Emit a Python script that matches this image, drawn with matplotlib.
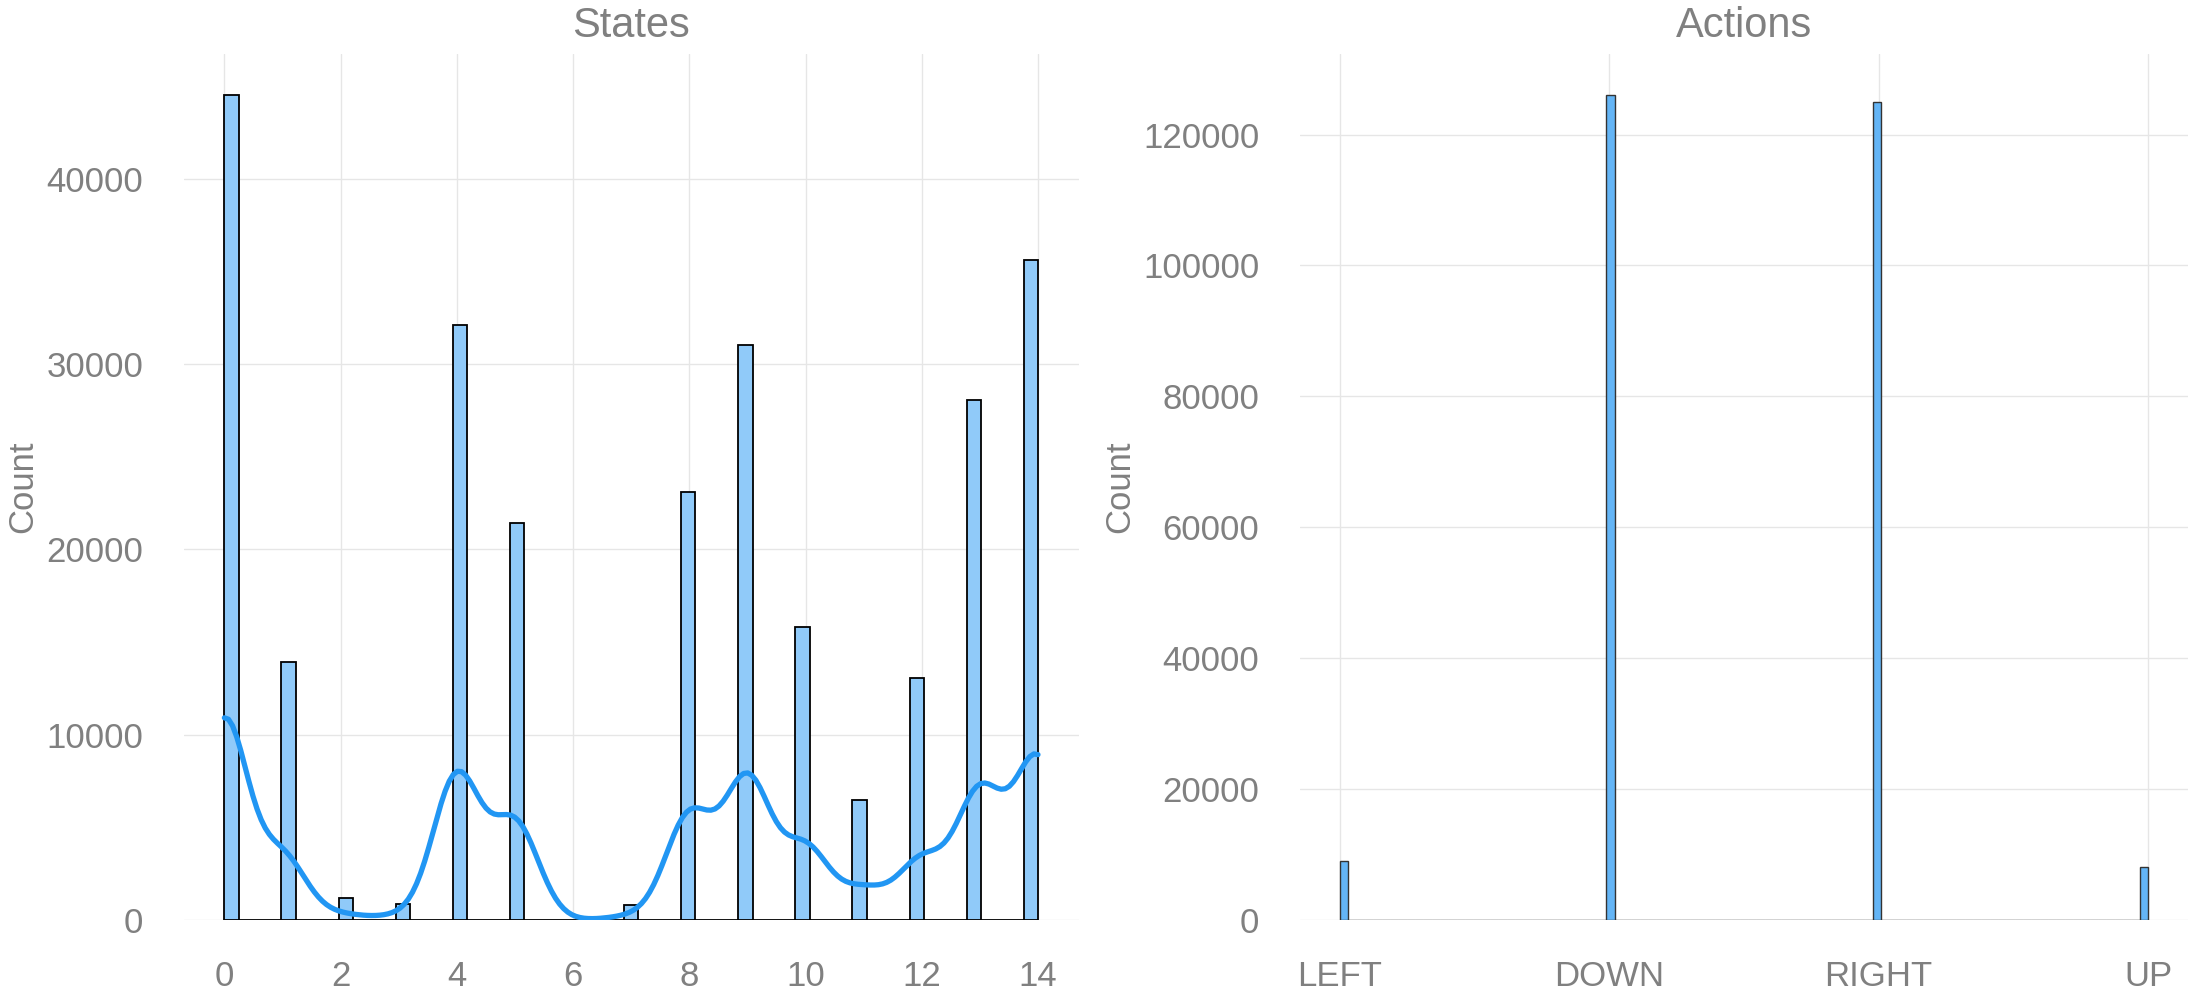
import numpy as np
import matplotlib
matplotlib.use("Agg")
import matplotlib.pyplot as plt
import seaborn as sns

# ---- data ----
state_ids = [0, 1, 2, 3, 4, 5, 6, 7, 8, 9, 10, 11, 12, 13, 14]
state_counts = [44500, 13900, 1200, 850, 32100, 21400, 0, 800,
                23100, 31000, 15800, 6500, 13050, 28050, 35600]

action_ids = [0, 1, 2, 3]
action_labels = ["LEFT", "DOWN", "RIGHT", "UP"]
action_counts = [9000, 126000, 124900, 8100]

state_ticks = [0, 2, 4, 6, 8, 10, 12, 14]

# ---- style ----
sns.set_style("white")
plt.rcParams["font.family"] = ["Liberation Sans", "DejaVu Sans"]
GRAY = "#808080"
GRID = "#e6e6e6"

states_data = np.repeat(np.array(state_ids), np.array(state_counts))
actions_data = np.repeat(np.array(action_ids), np.array(action_counts))

fig = plt.figure(figsize=(22, 10), dpi=100)
ax1 = fig.add_axes([0.0835, 0.08, 0.4068, 0.866])
ax2 = fig.add_axes([0.5907, 0.08, 0.404, 0.866])

sns.histplot(x=states_data, kde=True, ax=ax1, color="#90CAF9",
             edgecolor="black", linewidth=1.3, alpha=1)
kde_line = ax1.lines[-1]
kde_line.set_color("#2196F3")
kde_line.set_linewidth(3.8)

sns.histplot(x=actions_data, ax=ax2, color="#64B5F6",
             edgecolor="#333333", linewidth=1.0, alpha=1)

ax1.set_xticks(state_ticks)
ax2.set_xticks(action_ids)
ax2.set_xticklabels(action_labels)

for ax, title in ((ax1, "States"), (ax2, "Actions")):
    ax.set_title(title, fontsize=30, color=GRAY, pad=12)
    ax.set_ylabel("Count", fontsize=25, color=GRAY, labelpad=5)
    ax.set_xlabel("")
    ax.tick_params(axis="both", length=0, labelsize=25, labelcolor=GRAY)
    ax.tick_params(axis="x", pad=29)
    ax.tick_params(axis="y", pad=29)
    ax.grid(True, color=GRID, linewidth=1.0)
    ax.set_axisbelow(True)
    for s in ax.spines.values():
        s.set_visible(False)

fig.savefig("out.png", dpi=100)
